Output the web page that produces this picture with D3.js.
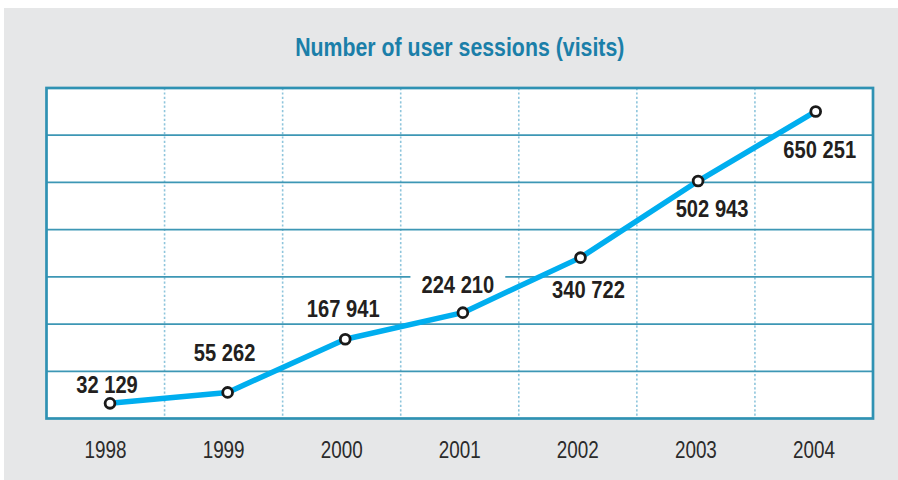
<!DOCTYPE html>
<html>
<head>
<meta charset="utf-8">
<script src="https://cdn.jsdelivr.net/npm/d3@7"></script>
<style>
  html, body { margin: 0; padding: 0; background: #ffffff; }
  svg { display: block; }
  text { font-family: "Liberation Sans", Arial, sans-serif; }
</style>
</head>
<body>
<svg id="chart" width="898" height="480"></svg>
<script>
// ---- data ----
const years = ["1998", "1999", "2000", "2001", "2002", "2003", "2004"];
const sessions = [32129, 55262, 167941, 224210, 340722, 502943, 650251];
const valueLabels = ["32 129", "55 262", "167 941", "224 210", "340 722", "502 943", "650 251"];
const yTicks = [0, 100000, 200000, 300000, 400000, 500000, 600000, 700000];
const title = "Number of user sessions (visits)";

// label placement (offset from the point, in px) and which label gets a white backing
const labelOffsets = [[-3, -10], [-3, -31], [-2, -22], [-5, -20], [8, 40], [14, 36], [4, 47]];
const maskedLabel = [false, false, false, true, false, false, false];

const NARROW = 0.82; // horizontal condensing of the sans face

const svg = d3.select("#chart");
const W = 898, H = 480;
const plot = { left: 46.5, right: 873, top: 88, bottom: 418.5 };

// background panel
svg.append("rect").attr("x", 4).attr("y", 8).attr("width", W - 4).attr("height", H - 8)
  .attr("fill", "#e6e7e8");

// plot area
svg.append("rect").attr("x", plot.left).attr("y", plot.top)
  .attr("width", plot.right - plot.left).attr("height", plot.bottom - plot.top)
  .attr("fill", "#ffffff");

// scales
const xBand = d3.scaleBand().domain(years).range([plot.left, plot.right]).padding(0);
const xPoint = d3.scalePoint().domain(years).range([110, 815.7]);
const y = d3.scaleLinear().domain([0, 700000]).range([plot.bottom, plot.top]);

// vertical dotted gridlines (band boundaries)
const vLines = years.slice(1).map(d => xBand(d));
svg.append("g").selectAll("line").data(vLines).join("line")
  .attr("x1", d => d).attr("x2", d => d)
  .attr("y1", plot.top).attr("y2", plot.bottom)
  .attr("stroke", "#8ec5dc").attr("stroke-width", 1.6)
  .attr("stroke-dasharray", "2.2,2.2");

// horizontal gridlines
svg.append("g").selectAll("line").data(yTicks.slice(1, -1)).join("line")
  .attr("x1", plot.left).attr("x2", plot.right)
  .attr("y1", d => y(d)).attr("y2", d => y(d))
  .attr("stroke", "#3d97b5").attr("stroke-width", 1.7);

// frame
svg.append("rect").attr("x", plot.left).attr("y", plot.top)
  .attr("width", plot.right - plot.left).attr("height", plot.bottom - plot.top)
  .attr("fill", "none").attr("stroke", "#2f92b3").attr("stroke-width", 2.7);

const maskG = svg.append("g");

const pts = years.map((yr, i) => ({ yr, v: sessions[i], lab: valueLabels[i], off: labelOffsets[i], mask: maskedLabel[i] }));

// line
const lineGen = d3.line().x(d => xPoint(d.yr)).y(d => y(d.v));
svg.append("path").datum(pts)
  .attr("d", lineGen)
  .attr("fill", "none").attr("stroke", "#00aeef").attr("stroke-width", 5.5)
  .attr("stroke-linejoin", "round").attr("stroke-linecap", "round");

// markers
svg.append("g").selectAll("circle").data(pts).join("circle")
  .attr("cx", d => xPoint(d.yr)).attr("cy", d => y(d.v)).attr("r", 4.9)
  .attr("fill", "#ffffff").attr("stroke", "#1a1a1a").attr("stroke-width", 2.8);

// value labels (condensed via horizontal scale)
const LAB_NARROW = 0.84;
const labels = svg.append("g").selectAll("text").data(pts).join("text")
  .attr("transform", d => `translate(${xPoint(d.yr) + d.off[0]},${y(d.v) + d.off[1]}) scale(${LAB_NARROW},1)`)
  .attr("text-anchor", "middle")
  .attr("font-size", 24).attr("font-weight", "bold")
  .attr("fill", "#231f20")
  .text(d => d.lab);

labels.each(function(d) {
  if (!d.mask) return;
  const b = this.getBBox();
  const cx = xPoint(d.yr) + d.off[0], cy = y(d.v) + d.off[1];
  const w = b.width * LAB_NARROW;
  maskG.append("rect")
    .attr("x", cx - w / 2 - 11).attr("y", cy + b.y - 2)
    .attr("width", w + 22).attr("height", b.height + 4)
    .attr("fill", "#ffffff");
});

// x axis labels
const xAxis = d3.axisBottom(xBand).tickSize(0).tickPadding(0);
const xg = svg.append("g").attr("transform", `translate(0, 458)`).call(xAxis);
xg.select(".domain").remove();
xg.selectAll("text")
  .attr("dy", 0).attr("y", 0)
  .attr("transform", `scale(${NARROW},1)`)
  .attr("font-size", 23).attr("fill", "#2b2b2b")
  .style("font-family", '"Liberation Sans", Arial, sans-serif');

// title
svg.append("text")
  .attr("transform", `translate(${(plot.left + plot.right) / 2},56) scale(${NARROW},1)`)
  .attr("text-anchor", "middle")
  .attr("font-size", 26).attr("font-weight", "bold")
  .attr("fill", "#1b7fa9")
  .text(title);
</script>
</body>
</html>
